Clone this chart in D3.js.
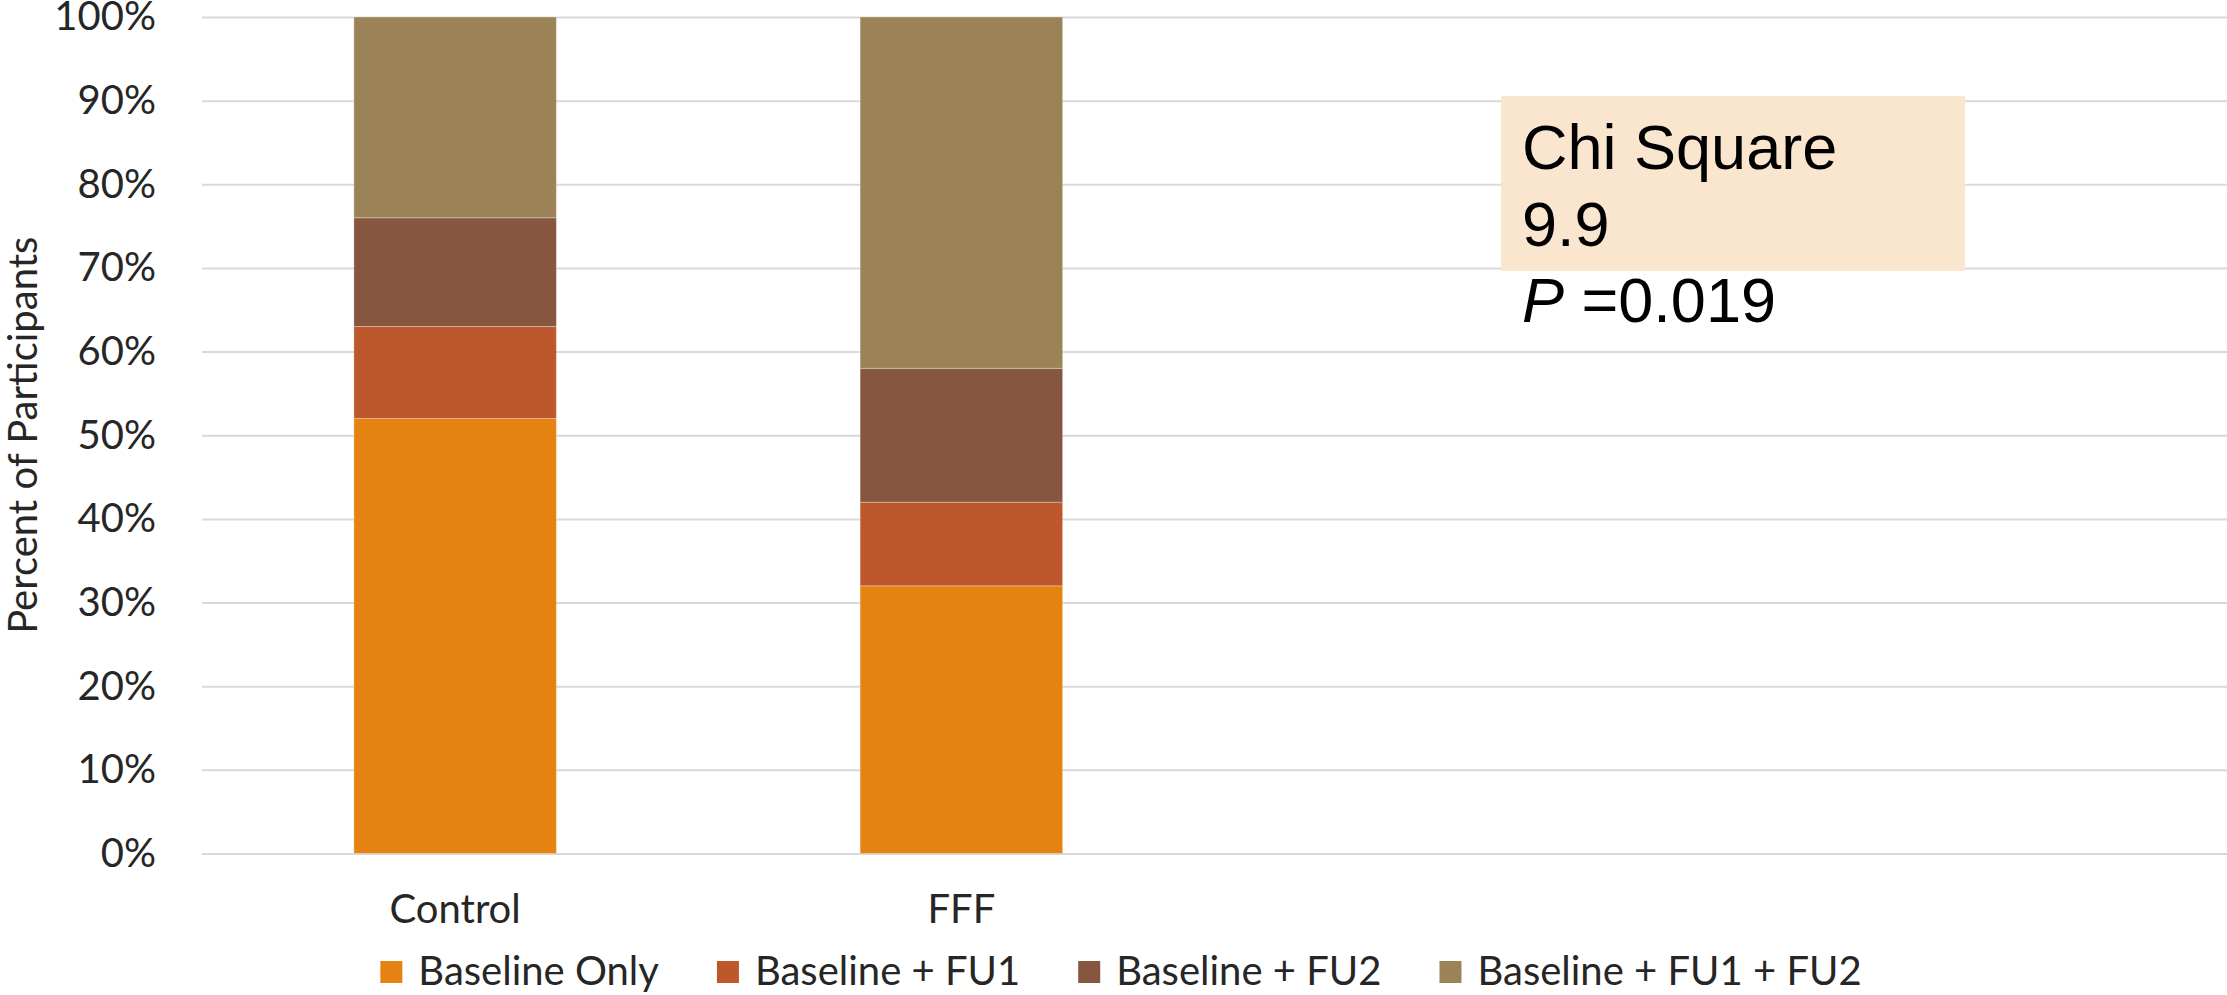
<!DOCTYPE html>
<html>
<head>
<meta charset="utf-8">
<script src="https://cdn.jsdelivr.net/npm/d3@7"></script>
<style>
  html, body { margin: 0; padding: 0; background: #fff; }
  svg { display: block; }
</style>
</head>
<body>
<script>
// ---- data ----
const categories = ["Control", "FFF"];
const slotCount = 4; // the category axis has room for four groups, two are empty
const seriesNames = ["Baseline Only", "Baseline + FU1", "Baseline + FU2", "Baseline + FU1 + FU2"];
const baselineOnly = [52, 32];
const baselineFU1 = [11, 10];
const baselineFU2 = [13, 16];
const baselineFU1FU2 = [24, 42];
const seriesColors = ["#E48312", "#BD582C", "#865640", "#9B8357"];
const yTickValues = [0, 10, 20, 30, 40, 50, 60, 70, 80, 90, 100];
const yAxisTitle = "Percent of Participants";
const noteLines = ["Chi Square", "9.9"];
const notePLabel = "P";
const notePValue = " =0.019";

// ---- layout ----
const W = 2227, H = 995;
const plot = { left: 202, right: 2227, top: 17, bottom: 853.5 };
const fontFamily = "Lato, 'Open Sans', sans-serif";
const fontSize = 40;
const textColor = "#262626";

const rows = categories.map((c, i) => ({
  slot: i,
  category: c,
  [seriesNames[0]]: baselineOnly[i],
  [seriesNames[1]]: baselineFU1[i],
  [seriesNames[2]]: baselineFU2[i],
  [seriesNames[3]]: baselineFU1FU2[i]
}));

const svg = d3.select("body").append("svg").attr("width", W).attr("height", H);

const x = d3.scaleBand()
  .domain(d3.range(slotCount))
  .range([plot.left, plot.right])
  .paddingInner(0.6)
  .paddingOuter(0.3);

const y = d3.scaleLinear().domain([0, 100]).range([plot.bottom, plot.top]);

// gridlines
const grid = svg.append("g")
  .attr("transform", `translate(${plot.left},0)`)
  .call(d3.axisLeft(y).tickValues(yTickValues).tickSize(-(plot.right - plot.left)).tickFormat(""));
grid.select(".domain").remove();
grid.selectAll(".tick line").attr("stroke", "#d9d9d9").attr("stroke-width", 2);

// y axis labels
const yAxis = svg.append("g")
  .attr("transform", `translate(${plot.left - 46},0)`)
  .call(d3.axisLeft(y).tickValues(yTickValues).tickSize(0).tickPadding(0).tickFormat(d => d + "%"));
yAxis.select(".domain").remove();
yAxis.selectAll("text")
  .attr("font-family", fontFamily)
  .attr("font-size", fontSize)
  .attr("fill", textColor);

// stacked bars
const stack = d3.stack().keys(seriesNames);
const stacked = stack(rows);

svg.append("g").selectAll("g")
  .data(stacked)
  .join("g")
  .attr("fill", (d, i) => seriesColors[i])
  .selectAll("rect")
  .data(d => d)
  .join("rect")
  .attr("x", d => x(d.data.slot))
  .attr("width", x.bandwidth())
  .attr("y", d => y(d[1]))
  .attr("height", d => y(d[0]) - y(d[1]))
  .attr("stroke", "rgba(255,255,255,0.3)")
  .attr("stroke-width", 1);

// category labels
const xAxis = svg.append("g")
  .attr("transform", `translate(0,${plot.bottom})`)
  .call(d3.axisBottom(x).tickSize(0).tickPadding(0)
    .tickFormat(i => categories[i] !== undefined ? categories[i] : ""));
xAxis.select(".domain").remove();
xAxis.selectAll("text")
  .attr("font-family", fontFamily)
  .attr("font-size", fontSize)
  .attr("fill", textColor)
  .attr("dy", null)
  .attr("y", 69);

// y axis title
svg.append("text")
  .attr("transform", `translate(37,${(plot.top + plot.bottom) / 2}) rotate(-90)`)
  .attr("text-anchor", "middle")
  .attr("font-family", fontFamily)
  .attr("font-size", fontSize)
  .attr("fill", textColor)
  .text(yAxisTitle);

// legend
const legend = svg.append("g");
const items = legend.selectAll("g").data(seriesNames).join("g");
items.append("rect")
  .attr("width", 22).attr("height", 22)
  .attr("y", 961)
  .attr("fill", (d, i) => seriesColors[i]);
items.append("text")
  .attr("x", 38)
  .attr("y", 985)
  .attr("font-family", fontFamily)
  .attr("font-size", fontSize)
  .attr("fill", textColor)
  .text(d => d);
let cursor = 0;
items.each(function () {
  const g = d3.select(this);
  g.attr("transform", `translate(${cursor},0)`);
  const tw = g.select("text").node().getComputedTextLength();
  cursor += 38 + tw + 58;
});
const legendWidth = cursor - 58;
legend.attr("transform", `translate(${1121 - legendWidth / 2},0)`);

// annotation box
const note = svg.append("g");
note.append("rect")
  .attr("x", 1501).attr("y", 96)
  .attr("width", 464).attr("height", 175)
  .attr("fill", "#FAE6CF");
const noteFont = "'Liberation Sans', Arial, sans-serif";
noteLines.forEach((t, i) => {
  note.append("text")
    .attr("x", 1522).attr("y", 169 + i * 76.5)
    .attr("font-family", noteFont)
    .attr("font-size", 63)
    .attr("fill", "#000")
    .text(t);
});
const pText = note.append("text")
  .attr("x", 1522).attr("y", 169 + 2 * 76.5)
  .attr("font-family", noteFont)
  .attr("font-size", 63)
  .attr("fill", "#000");
pText.append("tspan").attr("font-style", "italic").text(notePLabel);
pText.append("tspan").text(notePValue);
</script>
</body>
</html>
